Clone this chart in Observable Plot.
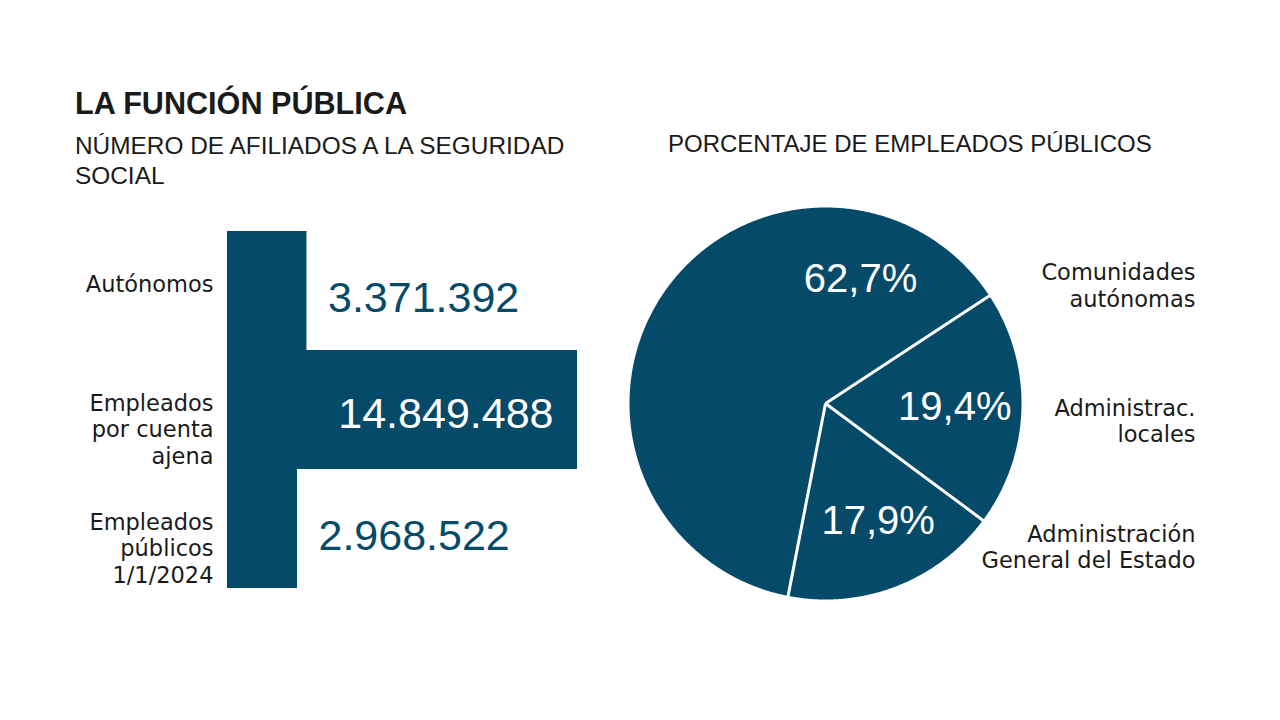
<!DOCTYPE html>
<html>
<head>
<meta charset="utf-8">
<script src="https://cdn.jsdelivr.net/npm/d3@7"></script>
<script src="https://cdn.jsdelivr.net/npm/@observablehq/plot@0.6"></script>
<style>
  body { margin: 0; background: #fff; }
  #root { position: relative; width: 1280px; height: 720px; overflow: hidden; background: #fff; color: #1a1a1a; }
  .abs { position: absolute; white-space: nowrap; }
  .title { left: 75px; top: 88px; font: bold 30.6px/30px "Liberation Sans", Arial, sans-serif; }
  .sub { font: 24px/30px "Liberation Sans", Arial, sans-serif; }
  svg { overflow: visible; }
</style>
</head>
<body>
<div id="root">
  <div class="abs title">LA FUNCIÓN PÚBLICA</div>
  <div class="abs sub" style="left:75px;top:131px;font-size:24.4px;">NÚMERO DE AFILIADOS A LA SEGURIDAD<br>SOCIAL</div>
  <div class="abs sub" style="left:668px;top:129px;">PORCENTAJE DE EMPLEADOS PÚBLICOS</div>
  <div id="bars" class="abs" style="left:60px;top:221px;"></div>
  <div id="pie" class="abs" style="left:620px;top:200px;"></div>
</div>
<script>
// ---- Data ----
const categories = ["Autónomos", "Empleados\npor cuenta\najena", "Empleados\npúblicos\n1/1/2024"];
const afiliados = [3371392, 14849488, 2968522];

const sectores = ["Comunidades\nautónomas", "Administrac.\nlocales", "Administración\nGeneral del Estado"];
const porcentajes = [62.7, 19.4, 17.9];

// ---- Styles ----
const BLUE = "#064a6a";
const LABEL_FONT = "'DejaVu Sans', sans-serif";
const NUM_FONT = "'Liberation Sans', Arial, sans-serif";
const locale = d3.formatLocale({decimal: ",", thousands: ".", grouping: [3], currency: ["", " €"]});
const fmtNum = locale.format(",d");
const fmtPct = v => locale.format(".1f")(v) + "%";

// ---- Bar chart ----
const bars = categories.map((c, i) => ({cat: c, value: afiliados[i]}));
const maxV = d3.max(afiliados);
const barPlot = Plot.plot({
  width: 560,
  height: 370,
  marginLeft: 167,
  marginRight: 43,
  marginTop: 10,
  marginBottom: 3,
  style: {fontFamily: LABEL_FONT, color: "#1a1a1a", background: "transparent"},
  x: {domain: [0, maxV], axis: null},
  y: {domain: categories, padding: 0, axis: null},
  marks: [
    Plot.barX(bars, {x: "value", y: "cat", fill: BLUE}),
    Plot.text(bars, {
      x: () => 0, y: "cat", text: "cat", textAnchor: "end", lineAnchor: "top", dx: -14, dy: -18,
      lineHeight: 1.18, fontSize: 22.5, fontFamily: LABEL_FONT, fill: "#1a1a1a"
    }),
    Plot.text(bars.filter(d => d.value < maxV / 2), {
      x: "value", y: "cat", text: d => fmtNum(d.value), textAnchor: "start", dx: 21, dy: 7,
      fill: BLUE, fontSize: 43, fontFamily: NUM_FONT
    }),
    Plot.text(bars.filter(d => d.value >= maxV / 2), {
      x: "value", y: "cat", text: d => fmtNum(d.value), textAnchor: "end", dx: -24, dy: 4,
      fill: "white", fontSize: 43, fontFamily: NUM_FONT
    })
  ]
});
document.getElementById("bars").append(barPlot);

// ---- Pie chart ----
const R = 196;
const DEG = Math.PI / 180;
const START = 191 * DEG;
const arcs = d3.pie().sort(null).startAngle(START).endAngle(START + 2 * Math.PI)(porcentajes);
const slicePts = arcs.flatMap((a, i) => {
  const pts = [{s: i, x: 0, y: 0}];
  const n = Math.ceil((a.endAngle - a.startAngle) / (DEG / 2));
  for (let k = 0; k <= n; k++) {
    const t = a.startAngle + (a.endAngle - a.startAngle) * k / n;
    pts.push({s: i, x: R * Math.sin(t), y: R * Math.cos(t)});
  }
  pts.push({s: i, x: 0, y: 0});
  return pts;
});
const labelAngle = a => a.endAngle - Math.max(35 * DEG, Math.min((a.endAngle - a.startAngle) / 2, 41 * DEG));
const LR = 0.66 * R;

// slice-name labels to the right of the pie (right-aligned column, vertical placement per slice)
const nameX = 370;
const nameY = [118.5, -17, -143];
const names = sectores.map((s, i) => ({name: s, y: nameY[i]}));

const piePlot = Plot.plot({
  width: 590,
  height: 410,
  margin: 0,
  style: {background: "transparent"},
  x: {domain: [-205, 385], range: [0, 590], axis: null},
  y: {domain: [-207, 203], range: [410, 0], axis: null},
  marks: [
    Plot.line(slicePts, {x: "x", y: "y", z: "s", fill: BLUE, stroke: "none", curve: "linear"}),
    Plot.link(arcs, {
      x1: () => 0, y1: () => 0,
      x2: a => (R + 2) * Math.sin(a.startAngle), y2: a => (R + 2) * Math.cos(a.startAngle),
      stroke: "white", strokeWidth: 3, strokeLinecap: "butt"
    }),
    Plot.text(arcs, {
      x: a => LR * Math.sin(labelAngle(a)), y: a => LR * Math.cos(labelAngle(a)),
      text: a => fmtPct(a.data), fill: "white", fontSize: 40, fontFamily: NUM_FONT
    }),
    Plot.text(names, {
      x: () => nameX, y: "y", text: "name", textAnchor: "end", lineHeight: 1.18,
      fontSize: 22.5, fontFamily: LABEL_FONT, fill: "#1a1a1a"
    })
  ]
});
document.getElementById("pie").append(piePlot);
</script>
</body>
</html>
